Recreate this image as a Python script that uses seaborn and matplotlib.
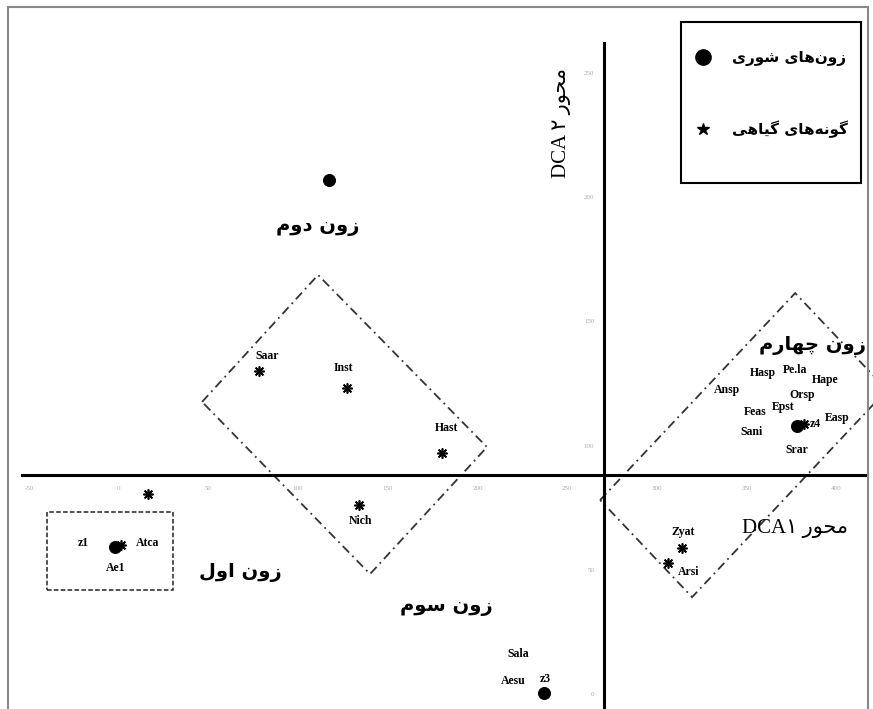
import numpy as np
import pandas as pd
import matplotlib.pyplot as plt
import seaborn as sns
from matplotlib.patches import Polygon, Rectangle
from matplotlib.lines import Line2D

# salinity zones (filled circles)
zone_x = [-2, 117, 237, 378]
zone_y = [59, 207, 0.5, 108]

# plant species shown with an asterisk
star_x = [78, 127, 180, 134, 16, 1, 382, 314, 306]
star_y = [130, 123, 97, 76, 80.5, 60, 108.7, 58.8, 52.7]

# point labels (species codes and zone codes)
lab_text = ['Saar', 'Inst', 'Hast', 'Nich', 'z1', 'Atca', 'Ae1',
            'Sala', 'Aesu', 'z3',
            'Hasp', 'Pe.la', 'Hape', 'Ansp', 'Orsp', 'Epst', 'Feas', 'Easp', 'Sani', 'z4', 'Srar',
            'Zyat', 'Arsi']
lab_x = [82.6, 125, 182.5, 135, -20, 16, -2,
         222.6, 219.8, 237.7,
         359.3, 377.1, 393.9, 339.2, 381, 370.4, 354.8, 400.6, 353.1, 388.5, 378.2,
         314.8, 317.5]
lab_y = [136.1, 131.2, 107.1, 69.6, 60.8, 60.8, 50.7,
         16.1, 5.2, 6.0,
         129.2, 130.4, 126.4, 122.4, 120.4, 115.5, 113.5, 111.1, 105.5, 108.7, 98.2,
         65.2, 49.1]

# zone groupings
diamond_a = [(46.4, 117.6), (111.1, 168.7), (205.3, 99.4), (140.1, 48.3)]
diamond_b = [(268.4, 78.1), (377.2, 161.4), (428.4, 122.4), (319.7, 39.0)]
box_z1 = [(-40.1, 41.9), (30.2, 73.3)]

zone_titles = ['زون دوم', 'زون اول', 'زون سوم', 'زون چهارم']
title_x = [111, 68, 182.5, 386.6]
title_y = [188.4, 49.1, 35.4, 140.5]

legend_labels = ['زون\u200cهای شوری', 'گونه\u200cهای گیاهی']

x_ticks = [-50, 0, 50, 100, 150, 200, 250, 300, 350, 400]
y_ticks = [0, 50, 100, 150, 200, 250]

# simple Persian shaping (matplotlib has no arabic shaping / bidi)
FORMS = {  # isolated, final, initial, medial
    'ا': ('\uFE8D', '\uFE8E', None, None),
    'د': ('\uFEA9', '\uFEAA', None, None),
    'ر': ('\uFEAD', '\uFEAE', None, None),
    'ز': ('\uFEAF', '\uFEB0', None, None),
    'و': ('\uFEED', '\uFEEE', None, None),
    'س': ('\uFEB1', '\uFEB2', '\uFEB3', '\uFEB4'),
    'ش': ('\uFEB5', '\uFEB6', '\uFEB7', '\uFEB8'),
    'ح': ('\uFEA1', '\uFEA2', '\uFEA3', '\uFEA4'),
    'ل': ('\uFEDD', '\uFEDE', '\uFEDF', '\uFEE0'),
    'م': ('\uFEE1', '\uFEE2', '\uFEE3', '\uFEE4'),
    'ن': ('\uFEE5', '\uFEE6', '\uFEE7', '\uFEE8'),
    'ه': ('\uFEE9', '\uFEEA', '\uFEEB', '\uFEEC'),
    'ی': ('\uFBFC', '\uFBFD', '\uFBFE', '\uFBFF'),
    'گ': ('\uFB92', '\uFB93', '\uFB94', '\uFB95'),
    'چ': ('\uFB7A', '\uFB7B', '\uFB7C', '\uFB7D'),
}


def fa(text):
    out = []
    for i, ch in enumerate(text):
        if ch not in FORMS:
            if ch != '\u200c':
                out.append(ch)
            continue
        prev = text[i - 1] if i > 0 else ''
        nxt = text[i + 1] if i + 1 < len(text) else ''
        join_prev = prev in FORMS and FORMS[prev][2] is not None
        join_next = FORMS[ch][2] is not None and nxt in FORMS
        iso, fin, ini, med = FORMS[ch]
        if join_prev and join_next:
            out.append(med)
        elif join_prev:
            out.append(fin)
        elif join_next:
            out.append(ini)
        else:
            out.append(iso)
    return ''.join(reversed(out))


sns.set_style('white')
plt.rcParams['font.family'] = ['Liberation Serif', 'DejaVu Sans']
plt.rcParams['text.color'] = 'black'
plt.rcParams['axes.unicode_minus'] = False

fig = plt.figure(figsize=(8.73, 7.09), dpi=100)
ax = fig.add_axes([0, 0, 1, 1])
ax.set_xlim(-66.3, 420.6)
ax.set_ylim(-6.04, 279.4)

# axes crossing in the middle of the plot
for s in ['top', 'right']:
    ax.spines[s].set_visible(False)
ax.spines['left'].set_position(('data', 270.6))
ax.spines['bottom'].set_position(('data', 88.2))
ax.spines['left'].set_bounds(-6, 262)
ax.spines['bottom'].set_bounds(-54, 417)
for s in ['left', 'bottom']:
    ax.spines[s].set_linewidth(2.2)
    ax.spines[s].set_color('black')
ax.set_xticks(x_ticks)
ax.set_yticks(y_ticks)
ax.tick_params(axis='both', direction='out', length=4, width=2, color='black',
               labelsize=5, labelcolor='#aaaaaa', pad=4)
ax.tick_params(axis='y', pad=3)

# groupings
ax.add_patch(Polygon(diamond_a, closed=True, fill=False, ec='#333333', lw=1.3,
                     ls=(0, (5, 2.5, 1, 2.5))))
ax.add_patch(Polygon(diamond_b, closed=True, fill=False, ec='#333333', lw=1.3,
                     ls=(0, (5, 2.5, 1, 2.5))))
(bx0, by0), (bx1, by1) = box_z1
ax.add_patch(Rectangle((bx0, by0), bx1 - bx0, by1 - by0, fill=False, ec='#222222',
                       lw=1.1, ls=(0, (3, 1.5))))

df_zone = pd.DataFrame({'x': zone_x, 'y': zone_y})
df_star = pd.DataFrame({'x': star_x, 'y': star_y})
sns.scatterplot(data=df_star, x='x', y='y', ax=ax, marker=(8, 2, 0), s=45,
                color='black', linewidth=1.2, legend=False, zorder=3)
sns.scatterplot(data=df_zone, x='x', y='y', ax=ax, marker='o', s=75,
                color='black', edgecolor='black', legend=False, zorder=4)
ax.set_xlabel('')
ax.set_ylabel('')

for t, x, y in zip(lab_text, lab_x, lab_y):
    ax.text(x, y, t, fontsize=8.5, fontweight='bold', ha='center', va='center',
            family=['Liberation Serif'])

for t, x, y in zip(zone_titles, title_x, title_y):
    ax.text(x, y, fa(t), fontsize=14, fontweight='bold', ha='center', va='center',
            family=['DejaVu Sans'])

# axis titles
ax.text(377, 66.8, 'DCA\u06f1 ' + fa('محور'), fontsize=15, ha='center', va='center',
        family=['Liberation Serif', 'DejaVu Sans'])
ax.text(247, 230, 'DCA \u06f2 ' + fa('محور'), fontsize=15, ha='center', va='center',
        rotation=90, family=['Liberation Serif', 'DejaVu Sans'])

# legend: box drawn separately so its size matches the original
ax.add_patch(Rectangle((681 / 873, 1 - 183 / 709), 180 / 873, 161 / 709,
                       transform=ax.transAxes, fill=False, ec='black', lw=1.5,
                       zorder=5))
handles = [Line2D([], [], marker='o', ls='', color='black', markersize=11),
           Line2D([], [], marker='*', ls='', color='black', markersize=9)]
leg = ax.legend(handles, [fa(t) for t in legend_labels],
                loc='upper right', bbox_to_anchor=(848 / 873, 1 - 50 / 709),
                borderaxespad=0, frameon=False, borderpad=0,
                labelspacing=3.6, handletextpad=1.3, handlelength=1.2,
                prop={'family': 'DejaVu Sans', 'weight': 'bold', 'size': 11})

# outer frame of the picture
fig.patches.append(Rectangle((8 / 873, -0.01), 860 / 873, 1.0 - 7 / 709 + 0.01,
                             transform=fig.transFigure, fill=False, ec='#888888',
                             lw=1.5, figure=fig))

fig.savefig('out.png', dpi=100)
